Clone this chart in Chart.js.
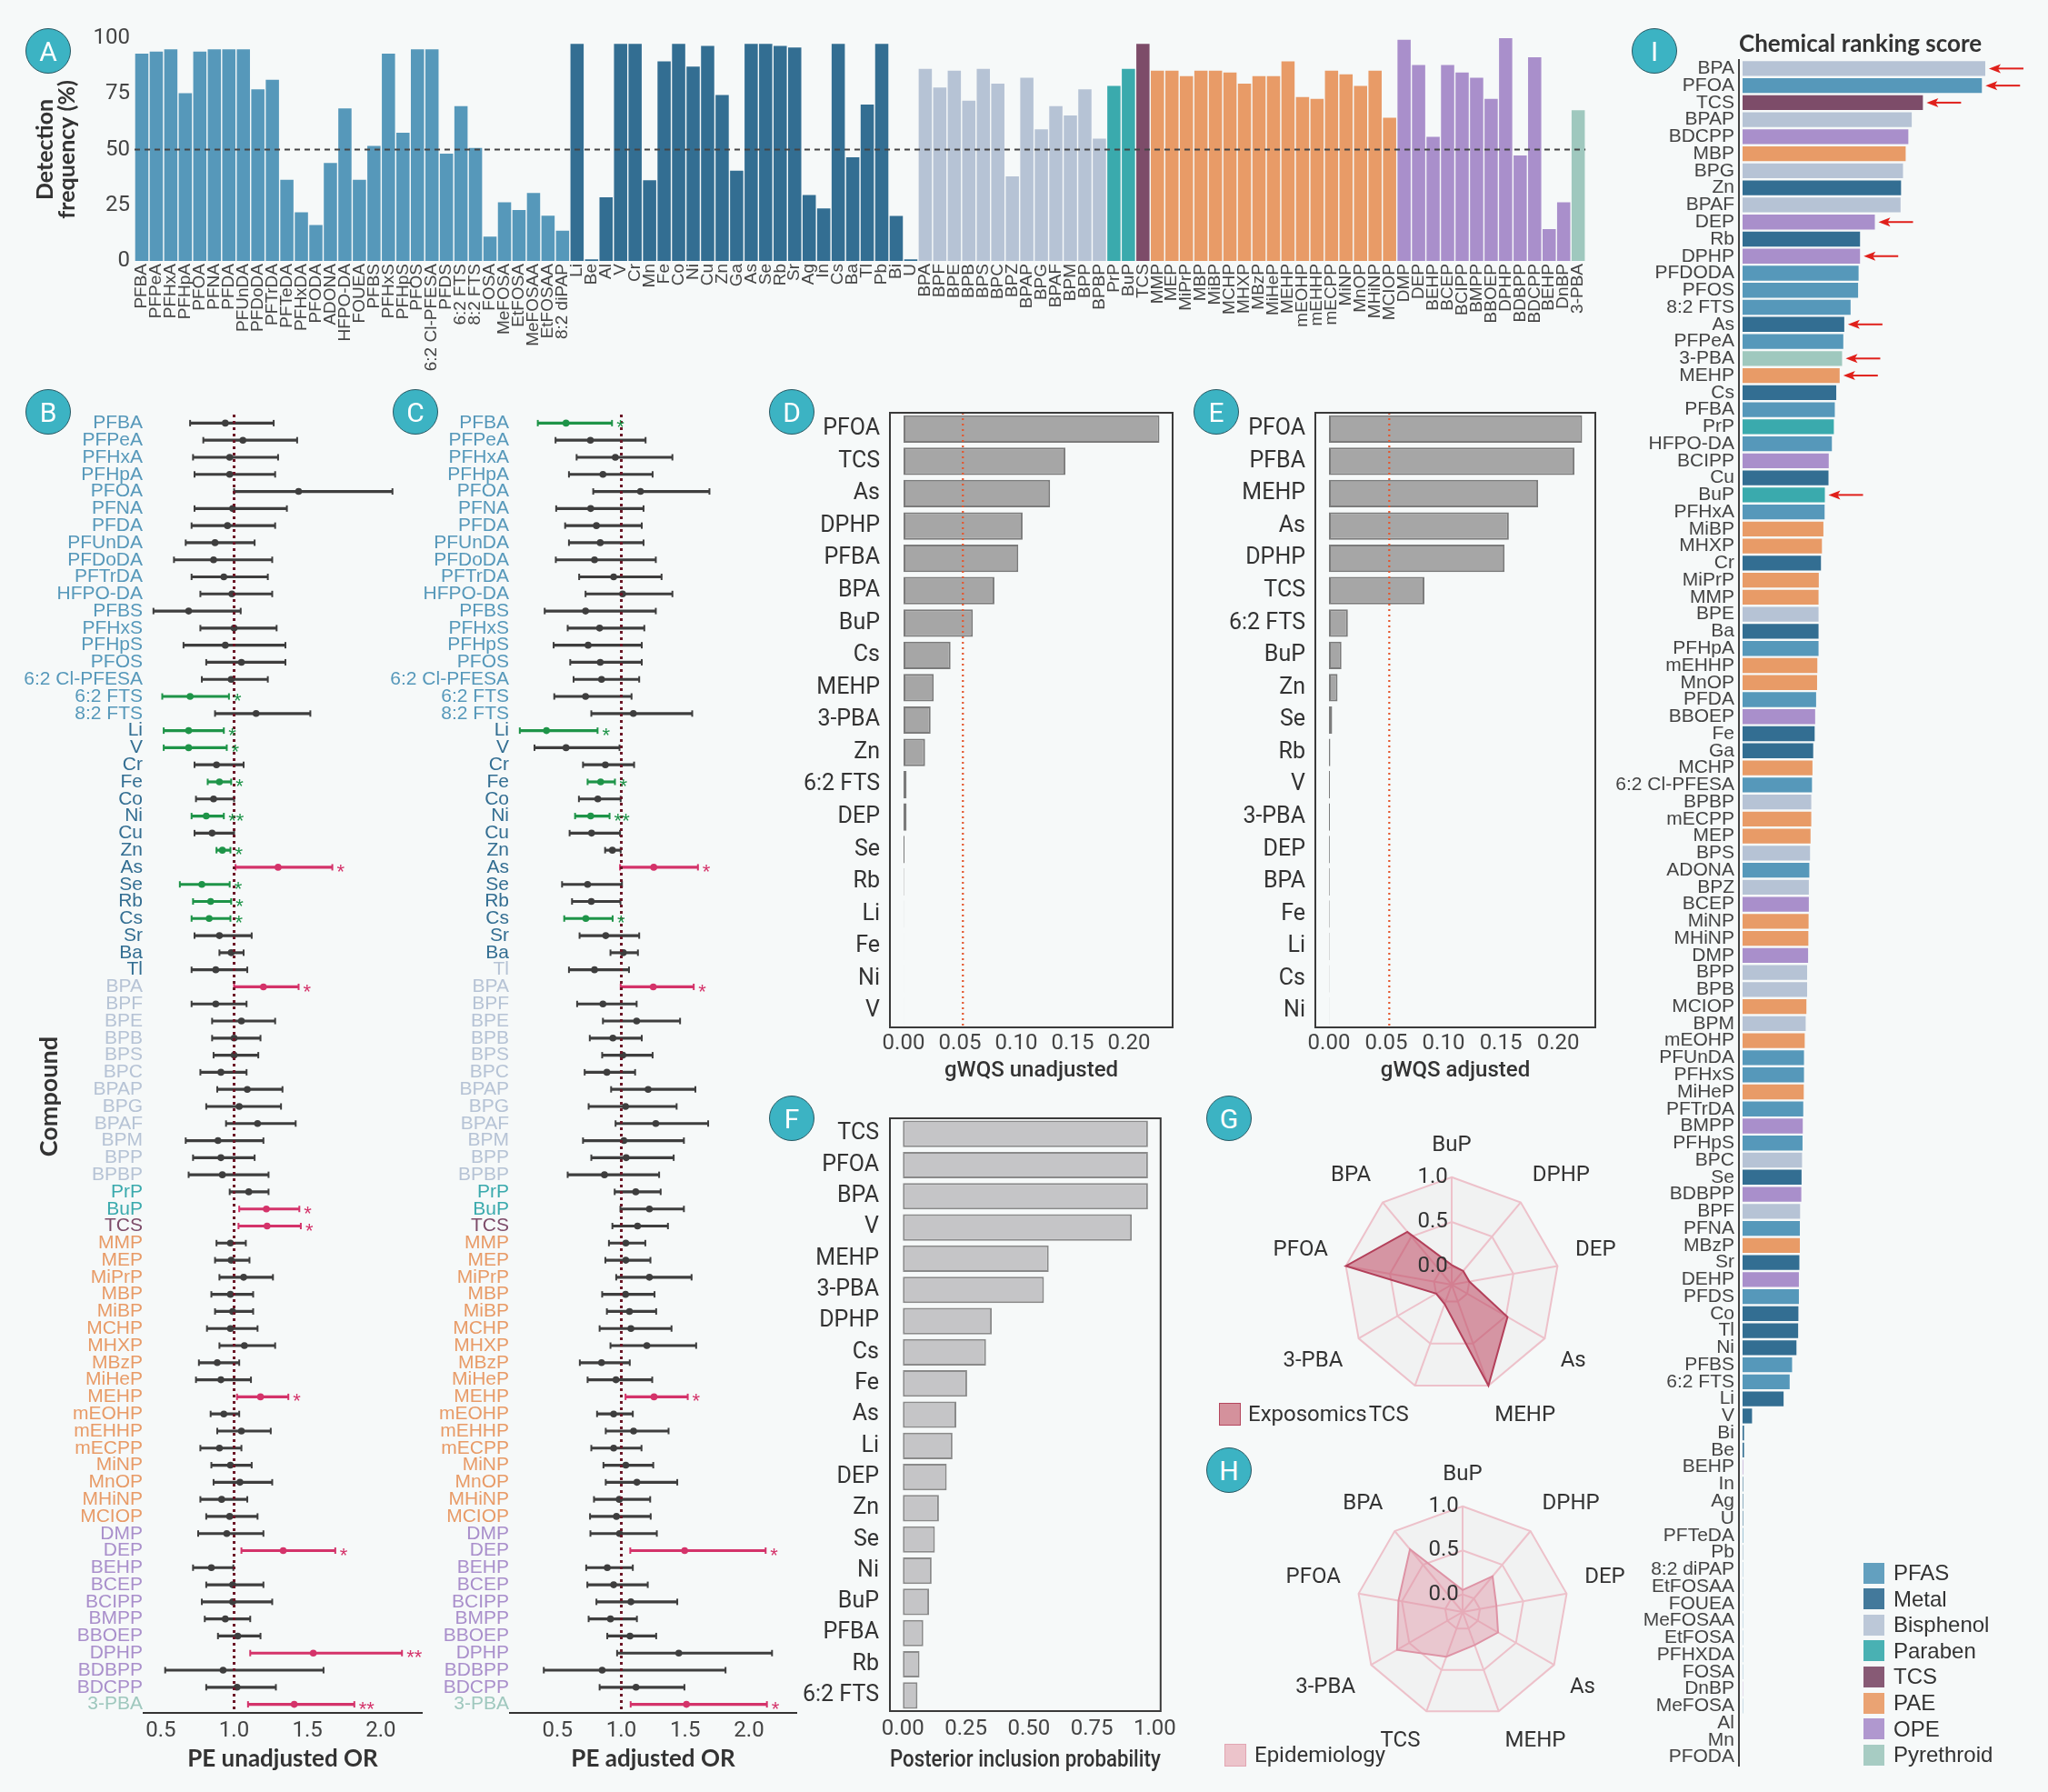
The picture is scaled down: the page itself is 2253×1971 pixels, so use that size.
<!DOCTYPE html>
<html>
<head>
<meta charset="utf-8">
<script src="https://cdn.jsdelivr.net/npm/chart.js"></script>
<style>
  body { margin: 0; background: #F6F9F9; }
  #page { position: relative; width: 2253px; height: 1971px; overflow: hidden; }
  canvas { position: absolute; }
  .tag { position: absolute; width: 48px; height: 48px; border-radius: 50%; background: #3CB3C3;
         border: 1.5px solid #2A5963; color: #fff; font: 30px Roboto, sans-serif;
         display: flex; align-items: center; justify-content: center; }
  .leg { position: absolute; color: #333; display: flex; align-items: center; white-space: nowrap; }
  .sw { display: inline-block; box-sizing: border-box; }
</style>
</head>
<body>
<div id="page">
  <canvas id="cA" width="1762" height="425" style="left:0;top:0"></canvas>
  <canvas id="cB" width="480" height="1531" style="left:0;top:440px"></canvas>
  <canvas id="cC" width="480" height="1531" style="left:410px;top:440px"></canvas>
  <canvas id="cD" width="455" height="760" style="left:845px;top:440px"></canvas>
  <canvas id="cE" width="460" height="760" style="left:1310px;top:440px"></canvas>
  <canvas id="cF" width="455" height="756" style="left:845px;top:1215px"></canvas>
  <canvas id="cG" width="404" height="334" style="left:1387px;top:1243px"></canvas>
  <canvas id="cH" width="400" height="330" style="left:1401px;top:1605px"></canvas>
  <canvas id="cI" width="478" height="1971" style="left:1775px;top:0"></canvas>

  <div class="tag" style="left:28px;top:31px">A</div>
  <div class="tag" style="left:28px;top:428px">B</div>
  <div class="tag" style="left:432px;top:428px">C</div>
  <div class="tag" style="left:846px;top:428px">D</div>
  <div class="tag" style="left:1313px;top:428px">E</div>
  <div class="tag" style="left:846px;top:1205px">F</div>
  <div class="tag" style="left:1327px;top:1205px">G</div>
  <div class="tag" style="left:1327px;top:1592px">H</div>
  <div class="tag" style="left:1795px;top:31px">I</div>

  <div class="leg" style="left:1341px;top:1541px;font:24px Roboto,sans-serif">
    <span class="sw" style="width:24px;height:25px;margin-right:8px;background:#D4919C;border:1.5px solid #B5475E"></span>Exposomics</div>
  <div class="leg" style="left:1347px;top:1916px;font:24px Roboto,sans-serif">
    <span class="sw" style="width:24px;height:25px;margin-right:9px;background:#ECC4CB;border:1.5px solid #E2A5B2"></span>Epidemiology</div>
  <div id="legI"></div>
</div>

<script>
// ---- panel A: detection frequency (%) by class ----
const pfasNames = ['PFBA','PFPeA','PFHxA','PFHpA','PFOA','PFNA','PFDA','PFUnDA','PFDoDA','PFTrDA','PFTeDA','PFHxDA','PFODA','ADONA','HFPO-DA','FOUEA','PFBS','PFHxS','PFHpS','PFOS','6:2 Cl-PFESA','PFDS','6:2 FTS','8:2 FTS','FOSA','MeFOSA','EtFOSA','MeFOSAA','EtFOSAA','8:2 diPAP'];
const pfasDF = [93.1,94.0,95.0,75.3,94.0,95.0,95.0,95.0,77.0,81.3,36.4,21.8,16.1,44.0,68.5,36.4,51.6,93.1,57.6,95.0,95.0,48.2,69.5,50.7,10.9,26.3,22.9,30.5,20.3,13.6];
const metalNames = ['Li','Be','Al','V','Cr','Mn','Fe','Co','Ni','Cu','Zn','Ga','As','Se','Rb','Sr','Ag','In','Cs','Ba','Tl','Pb','Bi','U'];
const metalDF = [97.4,0.7,28.6,97.4,97.4,36.2,89.6,97.4,87.2,96.5,74.5,40.5,97.4,97.4,96.5,95.8,29.6,23.6,97.4,46.5,70.2,97.4,20.2,0.7];
const bisNames = ['BPA','BPF','BPE','BPB','BPS','BPC','BPZ','BPAP','BPG','BPAF','BPM','BPP','BPBP'];
const bisDF = [86.2,77.9,85.4,71.9,86.2,79.6,38.0,82.2,59.1,69.5,65.3,77.0,54.9];
const parNames = ['PrP','BuP'];
const parDF = [78.6,86.2];
const tcsNames = ['TCS'];
const tcsDF = [97.4];
const paeNames = ['MMP','MEP','MiPrP','MBP','MiBP','MCHP','MHXP','MBzP','MiHeP','MEHP','mEOHP','mEHHP','mECPP','MiNP','MnOP','MHiNP','MCIOP'];
const paeDF = [85.4,85.4,83.0,85.4,85.4,84.6,79.6,83.0,83.0,89.6,73.6,72.8,85.4,83.8,78.6,85.4,64.3];
const opeNames = ['DMP','DEP','BEHP','BCEP','BCIPP','BMPP','BBOEP','DPHP','BDBPP','BDCPP','BEHP','DnBP'];
const opeDF = [99.3,88.0,55.7,88.0,84.6,82.2,72.8,100,47.3,91.4,14.3,26.3];
const pyrNames = ['3-PBA'];
const pyrDF = [67.7];

const classColors = {PFAS:'#5698BA', Metal:'#336E92', Bisphenol:'#B6C3D5', Paraben:'#3AAAAD',
                     TCS:'#7D4C69', PAE:'#E89B67', OPE:'#A98FCB', Pyrethroid:'#9FC8BE'};

// ---- panels B/C: odds ratios with 95% CI ----
const bNames = ['PFBA','PFPeA','PFHxA','PFHpA','PFOA','PFNA','PFDA','PFUnDA','PFDoDA','PFTrDA','HFPO-DA','PFBS','PFHxS','PFHpS','PFOS','6:2 Cl-PFESA','6:2 FTS','8:2 FTS',
  'Li','V','Cr','Fe','Co','Ni','Cu','Zn','As','Se','Rb','Cs','Sr','Ba','Tl',
  'BPA','BPF','BPE','BPB','BPS','BPC','BPAP','BPG','BPAF','BPM','BPP','BPBP',
  'PrP','BuP','TCS',
  'MMP','MEP','MiPrP','MBP','MiBP','MCHP','MHXP','MBzP','MiHeP','MEHP','mEOHP','mEHHP','mECPP','MiNP','MnOP','MHiNP','MCIOP',
  'DMP','DEP','BEHP','BCEP','BCIPP','BMPP','BBOEP','DPHP','BDBPP','BDCPP','3-PBA'];
const bOR = [0.94,1.06,0.97,0.97,1.44,0.99,0.955,0.87,0.86,0.93,0.985,0.69,1.0,0.94,1.05,0.98,0.70,1.15,
  0.69,0.69,0.88,0.90,0.86,0.81,0.85,0.92,1.30,0.78,0.84,0.83,0.90,0.98,0.875,
  1.20,0.875,1.05,1.0,1.0,0.91,1.09,1.035,1.16,0.89,0.91,0.92,
  1.10,1.22,1.225,
  0.975,0.98,1.065,0.975,0.99,0.975,1.07,0.885,0.91,1.18,0.93,1.05,0.90,0.975,1.04,0.915,0.97,
  0.95,1.335,0.845,0.99,0.99,0.94,1.025,1.54,0.925,1.02,1.41];
const bLo = [0.70,0.79,0.72,0.73,1.00,0.73,0.71,0.67,0.59,0.71,0.77,0.45,0.77,0.655,0.81,0.78,0.51,0.87,
  0.52,0.52,0.73,0.82,0.74,0.71,0.73,0.88,1.01,0.63,0.72,0.71,0.73,0.90,0.71,
  1.00,0.71,0.85,0.85,0.86,0.77,0.885,0.81,0.945,0.67,0.72,0.69,
  0.97,1.035,1.03,
  0.88,0.87,0.90,0.845,0.87,0.815,0.90,0.76,0.74,1.02,0.84,0.885,0.77,0.845,0.86,0.77,0.81,
  0.755,1.05,0.72,0.81,0.78,0.80,0.89,1.11,0.53,0.81,1.095];
const bHi = [1.27,1.43,1.30,1.28,2.08,1.36,1.28,1.14,1.26,1.23,1.26,1.045,1.29,1.35,1.35,1.23,0.965,1.52,
  0.93,0.95,1.065,0.98,1.00,0.93,1.00,0.975,1.67,0.97,0.98,0.975,1.12,1.065,1.09,
  1.44,1.085,1.28,1.18,1.165,1.085,1.33,1.32,1.42,1.20,1.14,1.235,
  1.235,1.445,1.455,
  1.08,1.105,1.265,1.13,1.13,1.16,1.28,1.035,1.115,1.37,1.035,1.25,1.05,1.12,1.26,1.09,1.16,
  1.20,1.69,0.995,1.20,1.26,1.11,1.18,2.145,1.61,1.285,1.82];
const bStar = ['','','','','','','','','','','','','','','','','*','',
  '*','*','','*','','**','','*','*','*','*','*','','','',
  '*','','','','','','','','','','','',
  '','*','*',
  '','','','','','','','','','*','','','','','','','',
  '','*','','','','','','**','','','**'];

const cOR = [0.567,0.758,0.953,0.856,1.15,0.76,0.805,0.835,0.79,0.94,1.01,0.72,0.83,0.74,0.835,0.845,0.72,1.094,
  0.414,0.567,0.875,0.838,0.816,0.76,0.767,0.93,1.254,0.736,0.765,0.722,0.878,1.016,0.79,
  1.25,0.856,1.12,0.934,1.012,0.887,1.21,1.033,1.27,1.02,1.038,0.868,
  1.113,1.22,1.127,
  1.035,1.035,1.22,1.033,1.064,1.075,1.20,0.845,0.958,1.256,0.94,1.096,0.94,1.035,1.122,0.984,0.962,
  0.986,1.496,0.89,0.94,1.075,0.915,1.068,1.45,0.85,1.115,1.51];
const cLo = [0.346,0.485,0.65,0.59,0.78,0.49,0.56,0.59,0.487,0.67,0.72,0.40,0.58,0.47,0.60,0.626,0.475,0.765,
  0.205,0.32,0.70,0.736,0.668,0.638,0.595,0.873,0.99,0.536,0.614,0.553,0.673,0.915,0.59,
  0.995,0.654,0.856,0.753,0.85,0.713,0.92,0.744,0.955,0.70,0.765,0.58,
  0.948,0.993,0.93,
  0.903,0.875,0.96,0.85,0.887,0.83,0.915,0.675,0.736,1.033,0.81,0.878,0.765,0.86,0.878,0.786,0.755,
  0.758,1.07,0.725,0.734,0.805,0.744,0.89,0.967,0.393,0.83,1.073];
const cHi = [0.927,1.19,1.40,1.245,1.69,1.174,1.16,1.174,1.27,1.315,1.40,1.27,1.18,1.16,1.16,1.14,1.08,1.555,
  0.814,0.986,1.10,0.95,0.995,0.908,0.99,0.995,1.60,1.005,0.993,0.932,1.14,1.13,1.06,
  1.567,1.12,1.46,1.16,1.245,1.108,1.58,1.433,1.68,1.49,1.41,1.296,
  1.308,1.49,1.365,
  1.188,1.228,1.55,1.26,1.273,1.393,1.586,1.066,1.242,1.52,1.09,1.37,1.158,1.25,1.438,1.226,1.23,
  1.278,2.13,1.09,1.207,1.438,1.122,1.273,2.18,1.816,1.494,2.14];
const cStar = ['*','','','','','','','','','','','','','','','','','',
  '*','','','*','','**','','','*','','','*','','','',
  '*','','','','','','','','','','','',
  '','','',
  '','','','','','','','','','*','','','','','','','',
  '','*','','','','','','','','','*'];
const cLabelClass = {Tl: 'Bisphenol'};
const orTicks = [0.5, 1.0, 1.5, 2.0];

// ---- panels D/E/F ----
const dNames = ['PFOA','TCS','As','DPHP','PFBA','BPA','BuP','Cs','MEHP','3-PBA','Zn','6:2 FTS','DEP','Se','Rb','Li','Fe','Ni','V'];
const dVals = [0.227,0.1436,0.130,0.1056,0.1018,0.0806,0.0615,0.0417,0.0268,0.024,0.0191,0.0027,0.0027,0.0008,0.0004,0.0002,0.0001,0.0001,0.0001];
const eNames = ['PFOA','PFBA','MEHP','As','DPHP','TCS','6:2 FTS','BuP','Zn','Se','Rb','V','3-PBA','DEP','BPA','Fe','Li','Cs','Ni'];
const eVals = [0.221,0.2143,0.1826,0.157,0.1533,0.0833,0.0165,0.0109,0.0075,0.0028,0.0012,0.0009,0.0008,0.0007,0.0006,0.0005,0.0004,0.0003,0.0002];
const wqsTicks = [0, 0.05, 0.10, 0.15, 0.20];
const wqsThreshold = 1 / 19;
const fNames = ['TCS','PFOA','BPA','V','MEHP','3-PBA','DPHP','Cs','Fe','As','Li','DEP','Zn','Se','Ni','BuP','PFBA','Rb','6:2 FTS'];
const fVals = [0.973,0.973,0.973,0.909,0.579,0.560,0.353,0.330,0.255,0.212,0.197,0.174,0.143,0.127,0.114,0.104,0.081,0.066,0.058];
const pipTicks = [0, 0.25, 0.5, 0.75, 1.0];

// ---- panels G/H radar ----
const radarAxes = ['BuP','DPHP','DEP','As','MEHP','TCS','3-PBA','PFOA','BPA'];
const gVals = [0.02,0.0,0.0,0.52,1.0,0.03,0.0,1.0,0.57];
const hVals = [0.05,0.33,0.19,0.265,0.2,0.34,0.66,0.54,0.73];

// ---- panel I: ranking score ----
const iNames = ['BPA','PFOA','TCS','BPAP','BDCPP','MBP','BPG','Zn','BPAF','DEP','Rb','DPHP','PFDODA','PFOS','8:2 FTS','As','PFPeA','3-PBA','MEHP','Cs',
  'PFBA','PrP','HFPO-DA','BCIPP','Cu','BuP','PFHxA','MiBP','MHXP','Cr','MiPrP','MMP','BPE','Ba','PFHpA','mEHHP','MnOP','PFDA','BBOEP','Fe',
  'Ga','MCHP','6:2 Cl-PFESA','BPBP','mECPP','MEP','BPS','ADONA','BPZ','BCEP','MiNP','MHiNP','DMP','BPP','BPB','MCIOP','BPM','mEOHP','PFUnDA','PFHxS',
  'MiHeP','PFTrDA','BMPP','PFHpS','BPC','Se','BDBPP','BPF','PFNA','MBzP','Sr','DEHP','PFDS','Co','Tl','Ni','PFBS','6:2 FTS','Li','V',
  'Bi','Be','BEHP','In','Ag','U','PFTeDA','Pb','8:2 diPAP','EtFOSAA','FOUEA','MeFOSAA','EtFOSA','PFHXDA','FOSA','DnBP','MeFOSA','Al','Mn','PFODA'];
const iScore = [1.0,0.986,0.743,0.697,0.683,0.672,0.661,0.653,0.651,0.545,0.484,0.484,0.478,0.476,0.445,0.419,0.415,0.41,0.40,0.386,
  0.38,0.376,0.368,0.355,0.354,0.339,0.338,0.333,0.327,0.323,0.314,0.313,0.313,0.313,0.313,0.308,0.307,0.303,0.299,0.297,
  0.291,0.288,0.286,0.283,0.283,0.28,0.278,0.275,0.273,0.273,0.272,0.271,0.27,0.266,0.266,0.263,0.26,0.256,0.253,0.253,
  0.252,0.25,0.248,0.247,0.245,0.243,0.242,0.237,0.236,0.236,0.234,0.232,0.232,0.23,0.229,0.222,0.204,0.194,0.169,0.039,
  0.006,0.006,0.002,0.002,0.002,0.002,0.002,0.001,0.001,0.001,0.001,0.001,0.001,0.001,0.001,0.001,0.001,0,0,0];
const iArrowNames = ['BPA','PFOA','TCS','DEP','DPHP','As','3-PBA','MEHP','BuP'];

// class lookup
const groups = [['PFAS',pfasNames,pfasDF],['Metal',metalNames,metalDF],['Bisphenol',bisNames,bisDF],['Paraben',parNames,parDF],
                ['TCS',tcsNames,tcsDF],['PAE',paeNames,paeDF],['OPE',opeNames,opeDF],['Pyrethroid',pyrNames,pyrDF]];
const classOf = {};
groups.forEach(([c, names]) => names.forEach(n => { classOf[n.toUpperCase()] = c; }));
classOf['DEHP'] = 'OPE';
const colorOf = n => classColors[classOf[n.toUpperCase()]] || '#999';

const RED = '#D4336A', GREEN = '#1E9448', DARK = '#3E3E3E';

Chart.defaults.font.family = 'Roboto';
Chart.defaults.color = '#333';
Chart.defaults.animation = false;
Chart.defaults.events = [];
Chart.defaults.plugins.legend.display = false;
Chart.defaults.plugins.tooltip.enabled = false;

// small plugins
function refLine(axis, value, color, width, dash) {
  return {
    id: 'refLine',
    afterDatasetsDraw(chart) {
      const {ctx, chartArea: a} = chart;
      const p = chart.scales[axis].getPixelForValue(value);
      ctx.save();
      ctx.strokeStyle = color; ctx.lineWidth = width; ctx.setLineDash(dash);
      ctx.beginPath();
      if (axis === 'x') { ctx.moveTo(p, a.top); ctx.lineTo(p, a.bottom); }
      else { ctx.moveTo(a.left, p); ctx.lineTo(a.right, p); }
      ctx.stroke();
      ctx.restore();
    }
  };
}
const frame = {
  id: 'frame',
  afterDraw(chart) {
    const {ctx, chartArea: a} = chart;
    ctx.save();
    ctx.strokeStyle = '#3A3A3A'; ctx.lineWidth = 2;
    ctx.strokeRect(a.left, a.top, a.right - a.left, a.bottom - a.top);
    ctx.restore();
  }
};
function starMarks(hi, marks, colors) {
  return {
    id: 'stars',
    afterDatasetsDraw(chart) {
      const {ctx, scales: {x, y}} = chart;
      ctx.save();
      ctx.font = '22px "Liberation Sans"';
      ctx.textAlign = 'left'; ctx.textBaseline = 'middle';
      marks.forEach((m, i) => {
        if (!m) return;
        ctx.fillStyle = colors[i];
        ctx.fillText(m, x.getPixelForValue(hi[i]) + 5, y.getPixelForValue(i) + 6);
      });
      ctx.restore();
    }
  };
}
function arrows(names) {
  return {
    id: 'arrows',
    afterDatasetsDraw(chart) {
      const {ctx} = chart;
      const meta = chart.getDatasetMeta(0);
      ctx.save();
      ctx.strokeStyle = '#E0201B'; ctx.fillStyle = '#E0201B'; ctx.lineWidth = 2;
      names.forEach(n => {
        const bar = meta.data[iNames.indexOf(n)];
        const x0 = bar.x + 4, y0 = bar.y;
        ctx.beginPath(); ctx.moveTo(x0 + 8, y0); ctx.lineTo(x0 + 38, y0); ctx.stroke();
        ctx.beginPath(); ctx.moveTo(x0, y0); ctx.lineTo(x0 + 13, y0 - 5); ctx.lineTo(x0 + 10, y0); ctx.lineTo(x0 + 13, y0 + 5); ctx.closePath(); ctx.fill();
      });
      ctx.restore();
    }
  };
}

// ---- A ----
const aNames = [].concat(...groups.map(g => g[1]));
const aDF = [].concat(...groups.map(g => g[2]));
const aColors = [].concat(...groups.map(g => g[1].map(() => classColors[g[0]])));
new Chart(document.getElementById('cA'), {
  type: 'bar',
  data: { labels: aNames, datasets: [{ data: aDF, backgroundColor: aColors, barPercentage: 1, categoryPercentage: 0.91 }] },
  options: {
    responsive: false,
    layout: { padding: { top: 42, right: 5 } },
    scales: {
      x: { grid: { display: false, drawTicks: false }, border: { display: false },
           ticks: { autoSkip: false, minRotation: 90, maxRotation: 90, padding: 3, color: '#444', font: { family: 'Liberation Sans', size: 19 } },
           afterFit: s => { s.height = 138; } },
      y: { min: 0, max: 100, ticks: { stepSize: 25, padding: 5, color: '#444', font: { size: 24 } },
           grid: { display: false, drawTicks: false }, border: { display: false },
           title: { display: true, text: ['Detection', 'frequency (%)'], color: '#333',
                    font: { family: 'Lato', weight: 'bold', size: 25, lineHeight: 0.95 }, padding: { top: 38, bottom: 0 } },
           afterFit: s => { s.width = 148; } }
    }
  },
  plugins: [refLine('y', 50, '#444', 2, [6, 5])]
});

// ---- B / C ----
function forest(id, or, lo, hi, stars, o) {
  const col = stars.map((s, i) => s ? (or[i] > 1 ? RED : GREEN) : DARK);
  const labelCol = bNames.map(n => o.override && o.override[n] ? classColors[o.override[n]] : colorOf(n));
  return new Chart(document.getElementById(id), {
    type: 'bar',
    data: {
      labels: bNames,
      datasets: [
        { data: bNames.map((_, i) => [lo[i], hi[i]]), backgroundColor: col, barThickness: 2.5, borderSkipped: false },
        { type: 'scatter', data: lo.map((v, i) => ({ x: v, y: i })), pointStyle: 'line', pointRotation: 90,
          pointRadius: 3.5, pointBorderColor: col, pointBorderWidth: 2 },
        { type: 'scatter', data: hi.map((v, i) => ({ x: v, y: i })), pointStyle: 'line', pointRotation: 90,
          pointRadius: 3.5, pointBorderColor: col, pointBorderWidth: 2 },
        { type: 'scatter', data: or.map((v, i) => ({ x: v, y: i })), pointRadius: 3.8,
          pointBackgroundColor: col, pointBorderColor: col, pointBorderWidth: 0 }
      ]
    },
    options: {
      indexAxis: 'y', responsive: false,
      layout: { padding: { top: 16, right: o.padRight } },
      scales: {
        x: { type: 'linear', min: o.min, max: o.max,
             afterBuildTicks: s => { s.ticks = orTicks.map(v => ({ value: v })); },
             ticks: { callback: v => v.toFixed(1), padding: 6, color: '#444', font: { size: 24 } },
             grid: { display: false, drawTicks: false }, border: { display: true, color: '#333', width: 2 },
             title: { display: true, text: o.title, color: '#333',
                      font: { family: 'Lato', weight: 'bold', size: 26, lineHeight: 1 }, padding: { top: 0, bottom: 23 } },
             afterFit: s => { s.height = 87; } },
        y: { type: 'category',
             ticks: { autoSkip: false, padding: 1, color: c => labelCol[c.index], font: { family: 'Liberation Sans', size: 21, lineHeight: 0.3 } },
             grid: { display: false, drawTicks: false }, border: { display: false },
             title: o.ytitle ? { display: true, text: o.ytitle, color: '#333',
                      font: { family: 'Lato', weight: 'bold', size: 27, lineHeight: 1 }, padding: { top: 41, bottom: 0 } } : { display: false },
             afterFit: s => { s.width = o.yw; } }
      }
    },
    plugins: [refLine('x', 1, '#6B1626', 3, [3, 4]), starMarks(hi, stars, col)]
  });
}
forest('cB', bOR, bLo, bHi, bStar, { min: 0.383, max: 2.28, padRight: 16, yw: 158, title: 'PE unadjusted OR', ytitle: 'Compound           ' });
forest('cC', cOR, cLo, cHi, cStar, { min: 0.128, max: 2.37, padRight: 14, yw: 151, title: 'PE adjusted OR', override: cLabelClass });

// ---- D / E / F ----
function hbar(id, names, vals, o) {
  const plugins = [frame];
  if (o.ref !== undefined) plugins.unshift(refLine('x', o.ref, '#E4572E', 2.2, [2, 4]));
  return new Chart(document.getElementById(id), {
    type: 'bar',
    data: { labels: names, datasets: [{ data: vals, backgroundColor: o.fill, borderColor: o.edge, borderWidth: 2,
                                         borderSkipped: false, barPercentage: 0.85, categoryPercentage: 1 }] },
    options: {
      indexAxis: 'y', responsive: false,
      layout: { padding: { top: o.top, right: o.right } },
      scales: {
        x: { type: 'linear', min: o.min, max: o.max,
             afterBuildTicks: s => { s.ticks = o.ticks.map(v => ({ value: v })); },
             ticks: { callback: v => v.toFixed(2), padding: o.tp, color: '#444', font: { size: 24 } },
             grid: { display: false, drawTicks: false }, border: { display: false },
             title: { display: true, text: o.title, color: '#333',
                      font: { weight: 500, size: o.ts, lineHeight: 1 }, padding: { top: 0, bottom: o.tb } },
             afterFit: s => { s.height = o.xh; } },
        y: { ticks: { autoSkip: false, padding: o.lp, color: '#333', font: { size: 25, lineHeight: 0.1 } },
             grid: { display: false, drawTicks: false }, border: { display: false },
             afterFit: s => { s.width = o.yw; } }
      }
    },
    plugins
  });
}
hbar('cD', dNames, dVals, { fill: '#A6A6A6', edge: '#7B7B7B', top: 14, right: 10, min: -0.0121, max: 0.2387, ticks: wqsTicks,
  tp: 4, title: 'gWQS unadjusted', ts: 24, tb: 10, xh: 70, lp: 11, yw: 134, ref: wqsThreshold });
hbar('cE', eNames, eVals, { fill: '#A6A6A6', edge: '#7B7B7B', top: 14, right: 15, min: -0.0119, max: 0.2325, ticks: wqsTicks,
  tp: 4, title: 'gWQS adjusted', ts: 24, tb: 10, xh: 70, lp: 11, yw: 137, ref: wqsThreshold });
hbar('cF', fNames, fVals, { fill: '#C5C5C7', edge: '#8A8A8A', top: 15, right: 12, min: -0.0515, max: 1.0233, ticks: pipTicks,
  tp: 6, title: 'Posterior inclusion probability', ts: 25, tb: 22, xh: 89, lp: 12, yw: 134 });

// ---- G / H ----
function radar(id, vals, fill, line) {
  return new Chart(document.getElementById(id), {
    type: 'radar',
    data: { labels: radarAxes, datasets: [{ data: vals, backgroundColor: fill, borderColor: line, borderWidth: 2, pointRadius: 0 }] },
    options: {
      responsive: false,
      scales: { r: {
        min: -0.2, max: 1,
        backgroundColor: '#F1F2F2',
        ticks: { stepSize: 0.5, showLabelBackdrop: false, z: 1, color: '#333', font: { size: 24 },
                 callback: v => v < -0.01 ? '' : v.toFixed(1) + '       ' },
        grid: { color: '#EDC1CA', lineWidth: 2 },
        angleLines: { color: '#EDC1CA', lineWidth: 2 },
        pointLabels: { color: '#333', font: { size: 24 }, padding: 6 }
      } }
    }
  });
}
radar('cG', gVals, 'rgba(190, 72, 98, 0.55)', '#B3405A');
radar('cH', hVals, 'rgba(222, 140, 160, 0.42)', '#DE93A5');

// ---- I ----
new Chart(document.getElementById('cI'), {
  type: 'bar',
  data: { labels: iNames, datasets: [{ data: iScore, backgroundColor: iNames.map(colorOf), barPercentage: 0.87, categoryPercentage: 1 }] },
  options: {
    indexAxis: 'y', responsive: false,
    layout: { padding: { right: 61, bottom: 29 } },
    scales: {
      x: { position: 'top', min: -0.015, max: 1.03, ticks: { display: false },
           grid: { display: false, drawTicks: false }, border: { display: false },
           title: { display: true, text: 'Chemical ranking score', align: 'start', color: '#333',
                    font: { family: 'Lato', weight: 'bold', size: 26, lineHeight: 1 }, padding: { top: 36, bottom: 0 } },
           afterFit: s => { s.height = 66; } },
      y: { ticks: { autoSkip: false, padding: 5, color: '#444', font: { family: 'Liberation Sans', size: 21 } },
           grid: { display: false, drawTicks: false }, border: { display: true, color: '#444', width: 2 },
           afterFit: s => { s.width = 138; } }
    }
  },
  plugins: [arrows(iArrowNames)]
});

// legend for I
const legI = document.getElementById('legI');
Object.keys(classColors).forEach((c, k) => {
  const d = document.createElement('div');
  d.className = 'leg';
  d.style.cssText = 'left:2050px;top:' + (1728 + k * 28.6 - 12) + 'px;font:24px "Liberation Sans",sans-serif';
  d.innerHTML = '<span class="sw" style="width:23px;height:23px;margin-right:10px;opacity:0.92;background:' + classColors[c] + '"></span>' + c;
  legI.appendChild(d);
});
</script>
</body>
</html>
